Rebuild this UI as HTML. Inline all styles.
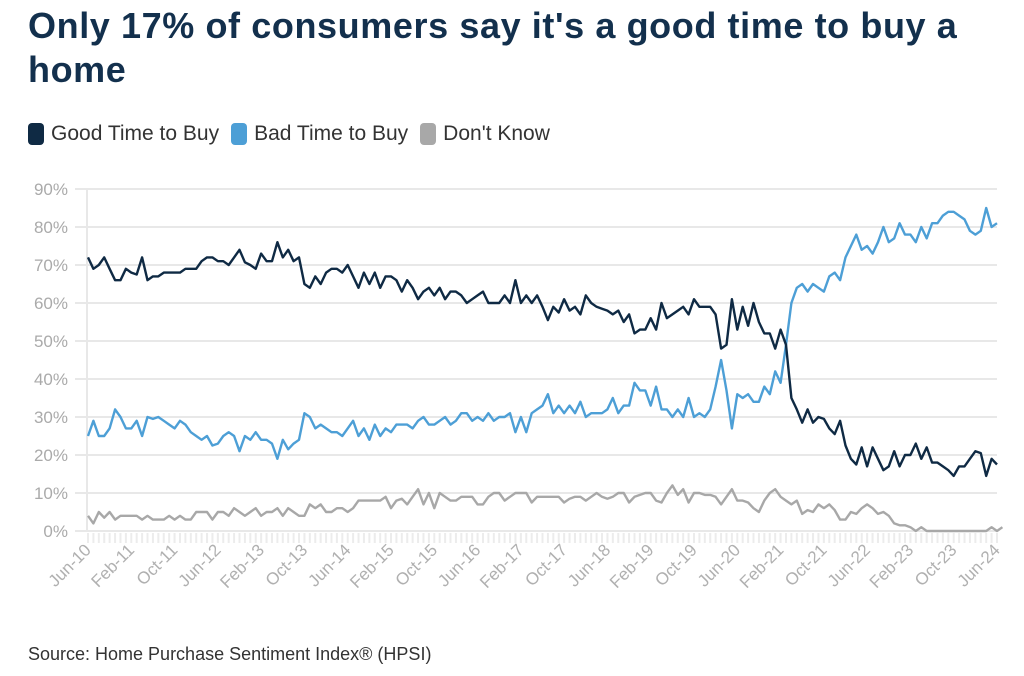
<!DOCTYPE html>
<html><head><meta charset="utf-8">
<style>
body{margin:0;background:#fff;width:1024px;height:676px;overflow:hidden;font-family:"Liberation Sans",sans-serif;}
#title{position:absolute;left:28px;top:4px;width:950px;font-size:36px;font-weight:bold;color:#13304d;line-height:44px;letter-spacing:0.6px;}
#legend{position:absolute;left:28px;top:122px;font-size:21px;color:#333;display:flex;gap:12px;}
.li{display:flex;align-items:center;}
.sw{width:16px;height:22px;border-radius:4px;margin-right:7px;display:inline-block;}
#source{position:absolute;left:28px;top:644px;font-size:18px;color:#333;}
svg{position:absolute;left:0;top:0;}
</style></head><body>
<div id="title">Only 17% of consumers say it's a good time to buy a home</div>
<div id="legend">
 <span class="li"><span class="sw" style="background:#0f2a44"></span>Good Time to Buy</span>
 <span class="li"><span class="sw" style="background:#4d9fd6"></span>Bad Time to Buy</span>
 <span class="li"><span class="sw" style="background:#a8a8a8"></span>Don't Know</span>
</div>
<svg id="chart" width="1024" height="676"></svg>
<div id="source">Source: Home Purchase Sentiment Index® (HPSI)</div>
<script>
const xLabels=["Jun-10","Feb-11","Oct-11","Jun-12","Feb-13","Oct-13","Jun-14","Feb-15","Oct-15","Jun-16","Feb-17","Oct-17","Jun-18","Feb-19","Oct-19","Jun-20","Feb-21","Oct-21","Jun-22","Feb-23","Oct-23","Jun-24"];
const yTicks=[0,10,20,30,40,50,60,70,80,90];
const goodTime=[72,69,70,72,69,66,66,69,68,67.5,72,66,67,67,68,68,68,68,69,69,69,71,72,72,71,71,70,72,74,70.7,70,69,73,71,71,76,72,74,71,72,65,64,67,65,68,69,69,68,70,67,64,68,65,68,64,67,67,66,63,66,64,61,63,64,62,64,61,63,63,62,60,61,62,63,60,60,60,62,60,66,60,62,60,62,59,55.5,59,57.5,61,58,59,57,62,60,59,58.5,58,57,58,55,57,52,53,53,56,53,60,56,57,58,59,57,61,59,59,59,57,48,49,61,53,59,54,60,55,52,52,48,53,49,35,32,28.5,32,28.5,30,29.5,27,25.5,29,22.5,19,17.5,22,17,22,19,16,17,21,17,20,20,23,19,22,18,18,17,16,14.5,17,17,19,21,20.5,14.5,19,17.5];
const badTime=[25,29,25,25,27,32,30,27,27,29,25,30,29.5,30,29,28,27,29,28,26,25,24,25,22.5,23,25,26,25,21,25,24,26,24,24,23,19,24,21.5,23,24,31,30,27,28,27,26,26,25,27,29,25,27,24,28,25,27,26,28,28,28,27,29,30,28,28,29,30,28,29,31,31,29,30,29,31,29,30,30,31,26,30,26,31,32,33,36,31,33,31,33,31,34,30,31,31,31,32,35,31,33,33,39,37,37,33,38,32,32,30,32,30,35,30,31,30,32,38,45,37,27,36,35,36,34,34,38,36,42,39,49,60,64,65,63,65,64,63,67,68,66,72,75,78,74,75,73,76,80,76,77,81,78,78,76,80,77,81,81,83,84,84,83,82,79,78,79,85,80,81];
const dontKnow=[4,2,5,3.5,5,3,4,4,4,4,3,4,3,3,3,4,3,4,3,3,5,5,5,3,5,5,4,6,5,4,5,6,4,5,5,6,4,6,5,4,4,7,6,7,5,5,6,6,5,6,8,8,8,8,8,9,6,8,8.5,7,9,11,7,10,6,10,9,8,8,9,9,9,7,7,9,10,10,8,9,10,10,10,7.5,9,9,9,9,9,7.5,8.5,9,9,8,9,10,9,8.5,9,10,10,7.5,9,9.5,10,10,8,7.5,10,12,9.5,11,7.5,10,10,9.5,9.5,9,7,9,11,8,8,7.5,6,5,8,10,11,9,8,7,8,4.5,5.5,5,7,6,7,5.5,3,3,5,4.5,6,7,6,4.5,5,4,2,1.5,1.5,1,0,1,0,0,0,0,0,0,0,0,0,0,0,0,1,0,1];

const NS="http://www.w3.org/2000/svg";
const svg=document.getElementById('chart');
const X0=88,X1=997,Y0=531,Y90=189;
const N=goodTime.length;
function xs(i){return X0+(X1-X0)*i/(N-1);}
function ys(v){return Y0-(Y0-Y90)*v/90;}
function mk(t,a){const e=document.createElementNS(NS,t);for(const k in a)e.setAttribute(k,a[k]);svg.appendChild(e);return e;}

yTicks.forEach(v=>{
  const g=mk('line',{x1:75,x2:X1,y1:ys(v),y2:ys(v),stroke:'#e8e8e8','stroke-width':2});
  
  
  const t=mk('text',{x:68,y:ys(v)+6,'text-anchor':'end','font-size':17,fill:'#aaaaaa','font-family':'Liberation Sans, sans-serif'});
  t.textContent=v+'%';
  
  
});
const ax=mk('line',{x1:X0-1,x2:X0-1,y1:189,y2:Y0,stroke:'#e8e8e8','stroke-width':2});


for(let i=0;i<N;i++){
  const tk=mk('line',{x1:xs(i),x2:xs(i),y1:Y0+2,y2:Y0+12,stroke:'#ececec','stroke-width':2});
  
  
}
xLabels.forEach((l,k)=>{
  const x=xs(k*8);
  const t=mk('text',{x:x+4,y:Y0+20,'text-anchor':'end','font-size':17,fill:'#b0b0b0','font-family':'Liberation Sans, sans-serif',transform:`rotate(-45 ${x+4} ${Y0+20})`});
  t.textContent=l;
  
  
});
function line(arr,color,name){
  const d=arr.map((v,i)=>(i?'L':'M')+xs(i).toFixed(1)+','+ys(v).toFixed(1)).join('');
  const p=mk('path',{d:d,fill:'none',stroke:color,'stroke-width':2.4,'stroke-linejoin':'round'});
  
  
}
line(dontKnow,'#a8a8a8','dont-know-line');
line(badTime,'#4d9fd6','bad-time-line');
line(goodTime,'#0f2a44','good-time-line');
</script>
</body></html>
